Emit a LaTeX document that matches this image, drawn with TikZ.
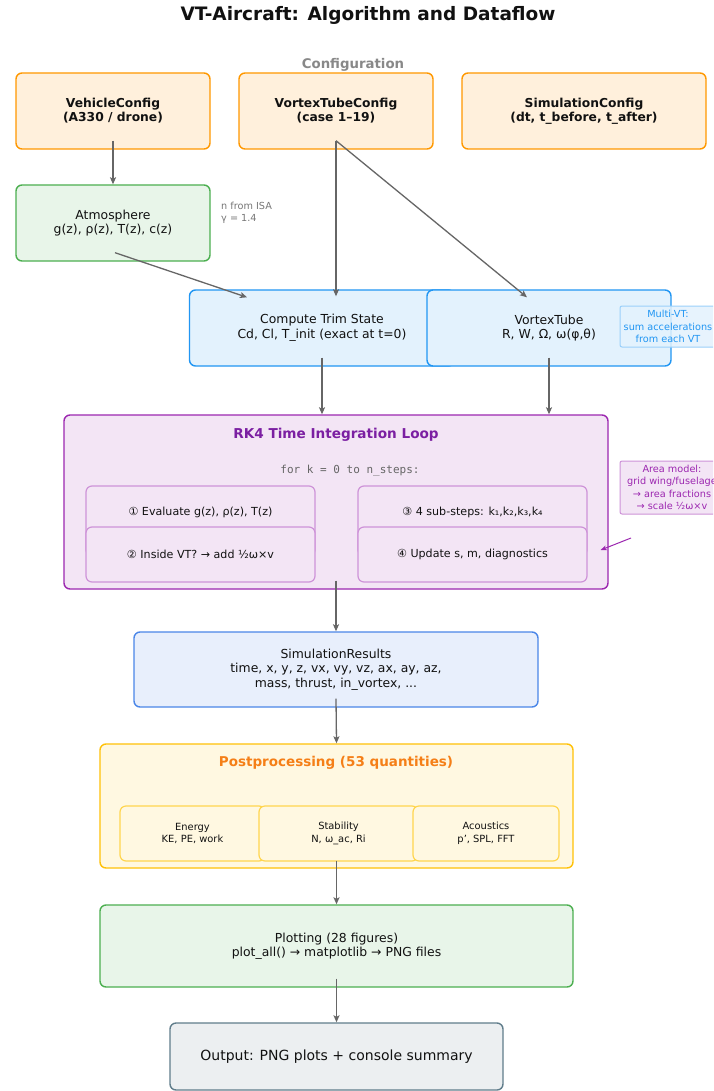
\documentclass[tikz,border=0pt]{standalone}
\usepackage{fontspec}
\setmainfont{DejaVu Sans}
\setmonofont{DejaVu Sans Mono}
\usetikzlibrary{arrows.meta,calc}
\definecolor{arrgray}{HTML}{666666}
\definecolor{orB}{HTML}{FF9800}\definecolor{orF}{HTML}{FFF0DC}
\definecolor{grB}{HTML}{4CAF50}\definecolor{grF}{HTML}{E8F5E9}
\definecolor{blB}{HTML}{2196F3}\definecolor{blF}{HTML}{E3F2FD}
\definecolor{puB}{HTML}{9C27B0}\definecolor{puF}{HTML}{F3E5F5}\definecolor{puI}{HTML}{CE93D8}\definecolor{puT}{HTML}{7B1FA2}
\definecolor{siB}{HTML}{4A86E8}\definecolor{siF}{HTML}{E8EFFC}
\definecolor{amB}{HTML}{FFC107}\definecolor{amF}{HTML}{FFF8E1}\definecolor{amI}{HTML}{FFD54F}\definecolor{amT}{HTML}{F57F17}
\definecolor{oiB}{HTML}{607D8B}\definecolor{oiF}{HTML}{ECEFF1}
\definecolor{notegray}{HTML}{777777}
\definecolor{cfggray}{HTML}{888888}
\definecolor{txt}{HTML}{111111}
\tikzset{
  box/.style={rectangle,rounded corners=6pt,line width=1.4pt,inner sep=0pt,align=center,text=txt,
    font=\fontsize{12.4}{14.5}\selectfont},
  cfgbox/.style={box,draw=orB,fill=orF,font=\fontsize{12.3}{14}\selectfont\bfseries},
  grbox/.style={box,draw=grB,fill=grF},
  blbox/.style={box,draw=blB,fill=blF},
  subbox/.style={box,draw=puI,fill=puF,line width=1.2pt,font=\fontsize{11.1}{13}\selectfont},
  subtext/.style={font=\fontsize{11.1}{13}\selectfont,text=txt},
  ambox/.style={box,draw=amI,fill=amF,line width=1.2pt,font=\fontsize{9.9}{12.5}\selectfont},
  arr/.style={draw=arrgray,line width=1.3pt,-{Stealth[length=7pt,width=6pt,inset=1.5pt]}},
  notestyle/.style={align=center,inner sep=0pt,font=\fontsize{9.7}{12.3}\selectfont},
}
\begin{document}
\begin{tikzpicture}[x=1pt,y=-1pt]
\useasboundingbox (0,0) rectangle (713,1091);
\clip (0,0) rectangle (713,1091);
\fill[white] (0,0) rectangle (713,1091);

\node[font=\fontsize{18.5}{20}\selectfont\bfseries,text=txt] (title) at (368,15) {VT-Aircraft: Algorithm and Dataflow};
\node[font=\fontsize{13.3}{15}\selectfont\bfseries,text=cfggray] (cfglabel) at (353,65) {Configuration};

\node[cfgbox,minimum width=194pt,minimum height=76pt] (veh) at (113,111) {VehicleConfig\\(A330 / drone)};
\node[cfgbox,minimum width=194pt,minimum height=76pt] (vtc) at (336,111) {VortexTubeConfig\\(case 1--19)};
\node[cfgbox,minimum width=244pt,minimum height=76pt] (simc) at (584,111) {SimulationConfig\\(dt, t\_before, t\_after)};

\node[grbox,minimum width=194pt,minimum height=76pt] (atm) at (113,223) {Atmosphere\\g(z), ρ(z), T(z), c(z)};
\node[notestyle,align=left,anchor=north west,text=notegray] (isa) at (221,202) {n from ISA\\γ = 1.4};

\node[blbox,minimum width=265pt,minimum height=76pt] (trim) at (322,328) {Compute Trim State\\Cd, Cl, T\_init (exact at t=0)};
\node[blbox,minimum width=244pt,minimum height=76pt] (vt) at (549,328) {VortexTube\\R, W, Ω, ω(φ,θ)};
\node[notestyle,draw=blB!45,fill=blF,fill opacity=0.85,rounded corners=2pt,line width=1pt,minimum width=110pt,minimum height=41pt] (multivt) at (675,326.5) {};
\node[notestyle,text=blB] (multivttext) at (668,326.5) {Multi-VT:\\sum accelerations\\from each VT};

\node[box,draw=puB,fill=puF,minimum width=544pt,minimum height=174pt] (rk4) at (336,502) {};
\node[font=\fontsize{13.6}{15}\selectfont\bfseries,text=puT] (rk4title) at (336,435) {RK4 Time Integration Loop};
\node[font=\fontsize{11}{12}\ttfamily,text=arrgray] (forloop) at (350,471) {for k = 0 to n\_steps:};
\node[subbox,minimum width=229pt,minimum height=70pt] (s1) at (200.5,521) {};
\node[subtext] (s1t) at (200.5,512.5) {① Evaluate g(z), ρ(z), T(z)};
\node[subbox,minimum width=229pt,minimum height=55pt] (s2) at (200.5,554.5) {② Inside VT? → add ½ω×v};
\node[subbox,minimum width=229pt,minimum height=70pt] (s3) at (472.5,521) {};
\node[subtext] (s3t) at (472.5,512.5) {③ 4 sub-steps: k₁,k₂,k₃,k₄};
\node[subbox,minimum width=229pt,minimum height=55pt] (s4) at (472.5,554.5) {④ Update s, m, diagnostics};
\node[notestyle,draw=puI,fill=puF,text=puB,rounded corners=2pt,line width=1pt,minimum width=104pt,minimum height=53pt] (area) at (672,487.5) {Area model:\\grid wing/fuselage\\→ area fractions\\→ scale ½ω×v};
\coordinate (areatail) at (631,538);

\node[box,draw=siB,fill=siF,minimum width=404pt,minimum height=75pt] (sim) at (336,669.5) {SimulationResults\\time, x, y, z, vx, vy, vz, ax, ay, az,\\mass, thrust, in\_vortex, ...};

\node[box,draw=amB,fill=amF,minimum width=473pt,minimum height=124pt] (post) at (336.5,806) {};
\node[font=\fontsize{13.5}{15}\selectfont\bfseries,text=amT] (posttitle) at (336,763) {Postprocessing (53 quantities)};
\node[ambox,minimum width=145pt,minimum height=55pt] (energy) at (192.5,833.5) {Energy\\KE, PE, work};
\node[ambox,minimum width=159pt,minimum height=55pt] (stab) at (338.5,833.5) {Stability\\N, ω\_ac, Ri};
\node[ambox,minimum width=146pt,minimum height=55pt] (acou) at (486,833.5) {Acoustics\\p', SPL, FFT};

\node[grbox,minimum width=473pt,minimum height=82pt] (plot) at (336.5,946) {Plotting (28 figures)\\plot\_all() → matplotlib → PNG files};
\node[box,draw=oiB,fill=oiF,minimum width=333pt,minimum height=67pt,font=\fontsize{14}{16}\selectfont] (out) at (336.5,1056.5) {Output: PNG plots + console summary};

\draw[arr] ([yshift=9pt]veh.south) -- (atm.north);
\draw[arr] ([xshift=2pt,yshift=9pt]atm.south) -- ([xshift=-75pt,yshift=-8pt]trim.north);
\draw[arr] ([yshift=9pt]vtc.south) -- ([xshift=14pt,yshift=-7pt]trim.north);
\draw[arr] ([yshift=9pt]vtc.south) -- ([xshift=-22pt,yshift=-8pt]vt.north);
\draw[arr] ([yshift=9pt]trim.south) -- ([xshift=-14pt]rk4.north);
\draw[arr] ([yshift=9pt]vt.south) -- ([xshift=213pt]rk4.north);
\draw[arr] ([yshift=9pt]rk4.south) -- (sim.north);
\draw[arr] ([yshift=9pt]sim.south) -- (post.north);
\draw[arr] ([yshift=8pt]post.south) -- (plot.north);
\draw[arr] ([yshift=9pt]plot.south) -- (out.north);
\draw[draw=puB,line width=1pt,-{Stealth[length=6pt,width=5pt,inset=1.5pt]}] (areatail) -- ([xshift=-8pt,yshift=-48pt]rk4.east);
\end{tikzpicture}
\end{document}
